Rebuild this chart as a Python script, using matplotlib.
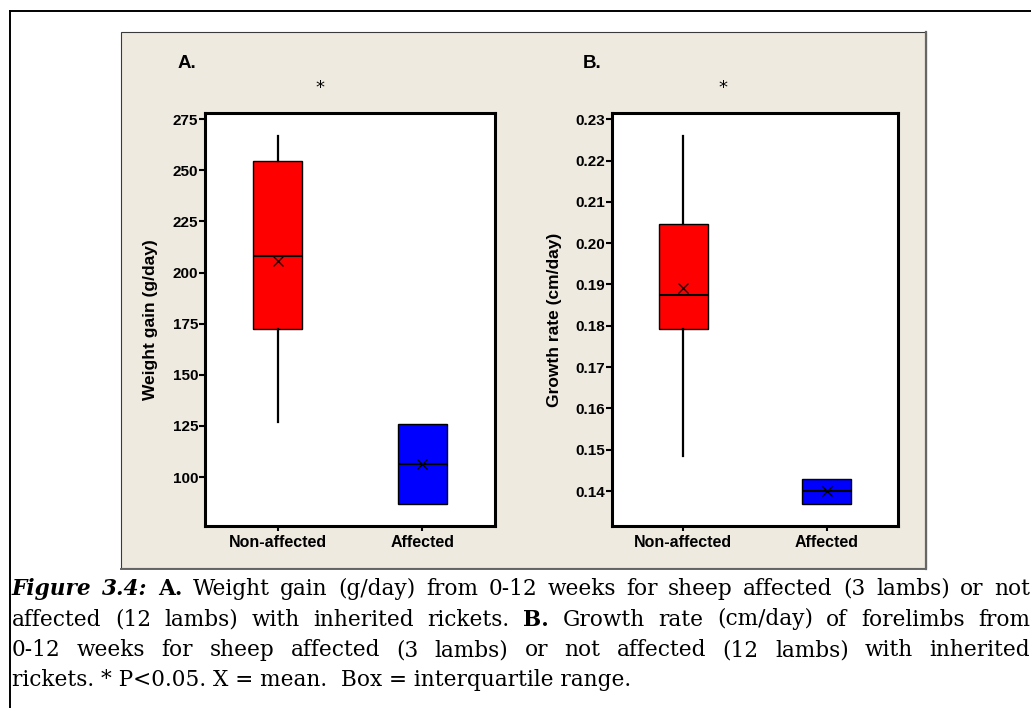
import matplotlib
matplotlib.use("Agg")
import matplotlib.pyplot as plt
from matplotlib.patches import Rectangle
from matplotlib.lines import Line2D

# ---------------- data ----------------
groups = ["Non-affected", "Affected"]
box_colors = ["#FF0000", "#0000FF"]

# Panel A: weight gain (g/day)
wg_whislo = [127.0, 86.8]
wg_q1 = [172.6, 86.8]
wg_med = [208.3, 106.4]
wg_q3 = [254.7, 126.1]
wg_whishi = [266.8, 126.1]
wg_mean = [205.5, 106.2]
wg_ticks = [100, 125, 150, 175, 200, 225, 250, 275]

# Panel B: growth rate (cm/day)
gr_whislo = [0.1485, 0.1369]
gr_q1 = [0.1793, 0.1369]
gr_med = [0.1875, 0.1400]
gr_q3 = [0.2047, 0.1428]
gr_whishi = [0.2260, 0.1428]
gr_mean = [0.1892, 0.1401]
gr_ticks = [0.14, 0.15, 0.16, 0.17, 0.18, 0.19, 0.20, 0.21, 0.22, 0.23]

W, H = 1031, 708
fig = plt.figure(figsize=(W / 100, H / 100), dpi=100)
fig.patch.set_facecolor("white")

SANS = ["Liberation Sans Narrow", "Liberation Sans", "DejaVu Sans"]
SERIF = ["DejaVu Serif"]


def fx(px):
    return px / W


def fy(py):
    return 1 - py / H


# outer frame lines
fig.add_artist(Line2D([fx(9.5), fx(9.5)], [fy(11), fy(708)], color="black", lw=1.4,
                      transform=fig.transFigure))
fig.add_artist(Line2D([fx(9.5), fx(1031)], [fy(11), fy(11)], color="black", lw=1.4,
                      transform=fig.transFigure))

# beige panel
fig.add_artist(Rectangle((fx(120.5), fy(568)), fx(926) - fx(120.5), fy(31.5) - fy(568),
                         transform=fig.transFigure, facecolor="#EEEAE0",
                         edgecolor="#3a3a3a", lw=0.8, zorder=0))
fig.add_artist(Line2D([fx(926), fx(926)], [fy(31.5), fy(568.5)], color="#666666", lw=1.6,
                      transform=fig.transFigure))
fig.add_artist(Line2D([fx(120.5), fx(926)], [fy(568.5), fy(568.5)], color="#666666", lw=1.4,
                      transform=fig.transFigure))

AX_TOP, AX_BOT = 113.3, 525.7


def draw_panel(left_px, right_px, whislo, q1, med, q3, whishi, mean, ticks, ylim,
               ylabel, tickfmt, letter, letter_px, star_px, ylab_px):
    ax = fig.add_axes([fx(left_px), fy(AX_BOT), fx(right_px) - fx(left_px),
                       fy(AX_TOP) - fy(AX_BOT)])
    ax.set_facecolor("white")
    stats = []
    for i, g in enumerate(groups):
        stats.append(dict(label=g, whislo=whislo[i], q1=q1[i], med=med[i], q3=q3[i],
                          whishi=whishi[i], mean=mean[i], fliers=[]))
    res = ax.bxp(stats, positions=[1, 2], widths=0.34, patch_artist=True,
                 showcaps=False, showfliers=False, showmeans=True,
                 boxprops=dict(edgecolor="black", linewidth=1.0),
                 whiskerprops=dict(color="black", linewidth=1.6),
                 medianprops=dict(color="black", linewidth=1.5),
                 meanprops=dict(marker="x", markeredgecolor="black", markersize=7,
                                markeredgewidth=0.9))
    for patch, c in zip(res["boxes"], box_colors):
        patch.set_facecolor(c)
    ax.set_xlim(0.5, 2.5)
    ax.set_ylim(*ylim)
    ax.set_yticks(ticks)
    ax.set_yticklabels([tickfmt(t) for t in ticks])
    ax.set_xticks([1, 2])
    ax.set_xticklabels(groups)
    for s in ax.spines.values():
        s.set_linewidth(2.2)
        s.set_color("black")
    ax.tick_params(axis="y", direction="out", length=4.5, width=1.5, pad=0.5)
    ax.tick_params(axis="x", direction="out", length=3.5, width=1.5, pad=3.0)
    for lab in ax.get_yticklabels():
        lab.set_fontfamily(SANS)
        lab.set_fontweight("bold")
        lab.set_fontsize(11)
    for lab in ax.get_xticklabels():
        lab.set_fontfamily(SANS)
        lab.set_fontweight("bold")
        lab.set_fontsize(11.5)
    fig.text(fx(ylab_px), fy((AX_TOP + AX_BOT) / 2), ylabel, rotation=90, ha="center",
             va="center", fontsize=12.5, fontweight="bold", family=SANS)
    fig.text(fx(letter_px), fy(64), letter, ha="center", va="center",
             fontsize=13.5, fontweight="bold", family=SANS)
    fig.text(fx(star_px), fy(88), "*", ha="center", va="center",
             fontsize=13, family=["DejaVu Sans"])
    return ax


draw_panel(205, 495, wg_whislo, wg_q1, wg_med, wg_q3, wg_whishi, wg_mean, wg_ticks,
           (76.2, 277.9), "Weight gain (g/day)", lambda t: f"{t:d}", "A.", 187, 320, 150)
draw_panel(611.7, 898.3, gr_whislo, gr_q1, gr_med, gr_q3, gr_whishi, gr_mean, gr_ticks,
           (0.1316, 0.23145), "Growth rate (cm/day)", lambda t: f"{t:.2f}", "B.", 592, 723, 555)

# ---------------- caption (justified) ----------------
CAP_SIZE = 15.6
renderer = fig.canvas.get_renderer()
normal = dict(family=SERIF, fontsize=CAP_SIZE)
bold = dict(family=SERIF, fontsize=CAP_SIZE, fontweight="bold")
bolditalic = dict(family=SERIF, fontsize=CAP_SIZE, fontweight="bold", style="italic")


def words(s, style=normal):
    return [(w, style) for w in s.split()]


cap_lines = [
    [("Figure", bolditalic), ("3.4:", bolditalic), ("A.", bold)]
    + words("Weight gain (g/day) from 0-12 weeks for sheep affected (3 lambs) or not"),
    words("affected (12 lambs) with inherited rickets.") + [("B.", bold)]
    + words("Growth rate (cm/day) of forelimbs from"),
    words("0-12 weeks for sheep affected (3 lambs) or not affected (12 lambs) with inherited"),
]
baselines = [595, 625.5, 656, 686]
LEFT, RIGHT = 12, 1030

for line, base in zip(cap_lines, baselines):
    texts = [fig.text(0, fy(base), w, va="baseline", ha="left", **st) for w, st in line]
    widths = [t.get_window_extent(renderer).width for t in texts]
    gap = (RIGHT - LEFT - sum(widths)) / (len(texts) - 1)
    x = LEFT
    for t, w in zip(texts, widths):
        t.set_x(fx(x))
        x += w + gap

fig.text(fx(LEFT), fy(baselines[3]), "rickets. * P<0.05. X = mean.  Box = interquartile range.",
         va="baseline", ha="left", **normal)

fig.savefig("out.png", dpi=100, facecolor="white")
